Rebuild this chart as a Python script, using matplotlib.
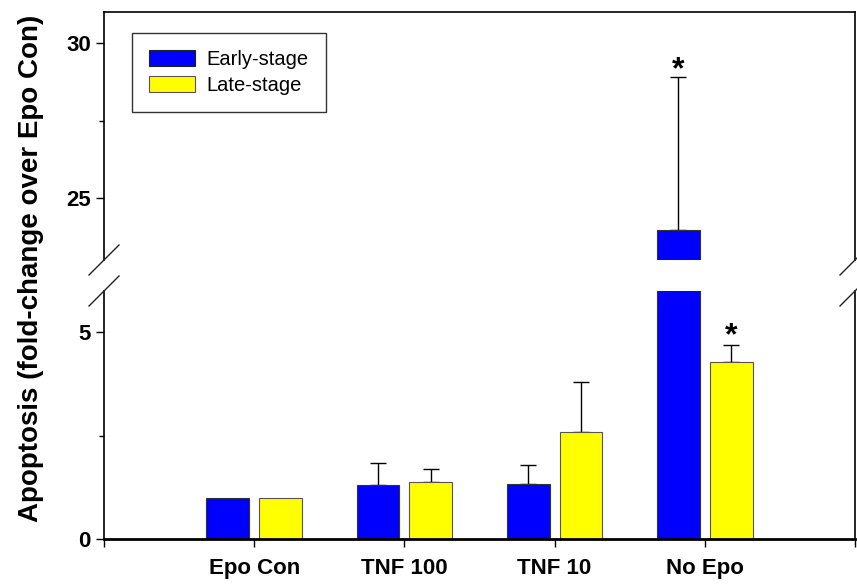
import matplotlib.pyplot as plt
from matplotlib.patches import Patch
from matplotlib.lines import Line2D
import numpy as np

plt.rcParams['font.family'] = ['Liberation Sans', 'DejaVu Sans']

categories = ['Epo Con', 'TNF 100', 'TNF 10', 'No Epo']
early = [1.0, 1.30, 1.32, 23.96]
early_err = [0.0, 0.53, 0.47, 4.94]
late = [1.0, 1.39, 2.58, 4.28]
late_err = [0.0, 0.31, 1.23, 0.42]

W, H = 857, 587
fig = plt.figure(figsize=(W / 100, H / 100), dpi=100)

def px(x0, y0, x1, y1):
    # pixel box -> figure fraction [left, bottom, width, height]
    return [x0 / W, 1 - y1 / H, (x1 - x0) / W, (y1 - y0) / H]

ax_lo = fig.add_axes(px(104, 291, 855, 539))
ax_hi = fig.add_axes(px(104, 12, 855, 260))

x = np.arange(1, len(categories) + 1)
bw = 0.285
off = 0.176
blue = '#0000ff'
yellow = '#ffff00'
tick_fs = 16

for ax in (ax_lo, ax_hi):
    ax.bar(x - off, early, bw, color=blue, edgecolor='#333333', linewidth=0.8, zorder=2)
    ax.bar(x + off, late, bw, color=yellow, edgecolor='#555555', linewidth=0.8, zorder=2)
    for xi, v, e in zip(x - off, early, early_err):
        if e > 0:
            ax.errorbar(xi, v, yerr=[[0], [e]], fmt='none', ecolor='black',
                        elinewidth=1.0, capsize=5.8, capthick=1.0, zorder=1)
    for xi, v, e in zip(x + off, late, late_err):
        if e > 0:
            ax.errorbar(xi, v, yerr=[[0], [e]], fmt='none', ecolor='black',
                        elinewidth=1.0, capsize=5.8, capthick=1.0, zorder=1)
    ax.set_xlim(0, 5)
    ax.tick_params(axis='both', direction='out', width=1.0)

ax_lo.set_ylim(0, 6)
ax_lo.set_yticks([0, 5])
ax_lo.set_yticks([2.5], minor=True)
ax_lo.set_xticks(range(6))
ax_lo.set_xticklabels([''] + categories + [''], fontsize=tick_fs, fontweight='bold')
ax_lo.set_yticklabels(['0', '5'], fontsize=tick_fs, fontweight='bold')
ax_lo.tick_params(axis='x', length=6, width=1.0, pad=8)
ax_lo.tick_params(axis='y', which='major', length=6)
ax_lo.tick_params(axis='y', which='minor', length=3.5, width=1.0)
ax_lo.spines['top'].set_visible(False)
ax_lo.spines['bottom'].set_linewidth(2.0)
ax_lo.spines['left'].set_linewidth(1.2)
ax_lo.spines['right'].set_linewidth(1.2)

ax_hi.set_ylim(23, 31)
ax_hi.set_yticks([25, 30])
ax_hi.set_yticks([27.5], minor=True)
ax_hi.set_yticklabels(['25', '30'], fontsize=tick_fs, fontweight='bold')
ax_hi.set_xticks([])
ax_hi.tick_params(axis='y', which='major', length=6)
ax_hi.tick_params(axis='y', which='minor', length=3.5, width=1.0)
ax_hi.spines['bottom'].set_visible(False)
for s in ('top', 'left', 'right'):
    ax_hi.spines[s].set_linewidth(1.2)

# significance asterisks
ax_hi.text(x[3] - off, early[3] + early_err[3] + 0.22, '*', ha='center', va='center',
           fontsize=23, fontweight='bold')
ax_lo.text(x[3] + off, late[3] + late_err[3] + 0.2, '*', ha='center', va='center',
           fontsize=23, fontweight='bold')

# axis break marks
for yb in (260, 291):
    for xb in (104, 855):
        fig.add_artist(Line2D([(xb - 15) / W, (xb + 15) / W],
                              [1 - (yb + 15) / H, 1 - (yb - 15) / H],
                              color='#222222', lw=1.0))

handles = [Patch(facecolor=blue, edgecolor='#222222', lw=0.8, label='Early-stage'),
           Patch(facecolor=yellow, edgecolor='#555555', lw=0.8, label='Late-stage')]
leg = ax_hi.legend(handles=handles, loc='upper left',
                   bbox_to_anchor=(132 / W, 1 - 33 / H), bbox_transform=fig.transFigure,
                   fontsize=14.5, frameon=True, fancybox=False, edgecolor='black',
                   borderaxespad=0, borderpad=0.85, handlelength=2.3, handleheight=0.8,
                   labelspacing=0.35, handletextpad=0.55)
leg.get_frame().set_linewidth(1.0)

fig.text(31 / W, 1 - 268 / H, 'Apoptosis (fold-change over Epo Con)', rotation=90,
         ha='center', va='center', fontsize=20, fontweight='bold')

fig.savefig('out.png', dpi=100)
